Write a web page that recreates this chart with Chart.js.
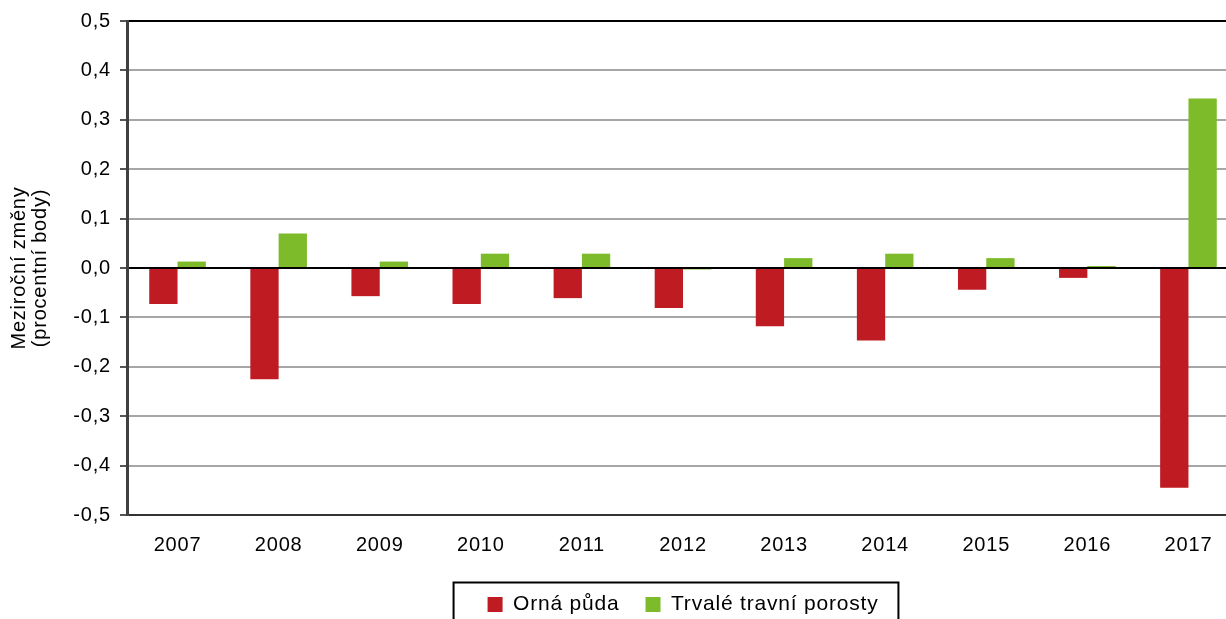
<!DOCTYPE html>
<html>
<head>
<meta charset="utf-8">
<script src="https://cdn.jsdelivr.net/npm/chart.js@4.4.1/dist/chart.umd.min.js"></script>
<style>
  html, body { margin: 0; padding: 0; background: #fff; overflow: hidden; }
  #wrap { position: absolute; left: 0; top: 0; width: 1245px; height: 650px; }
</style>
</head>
<body>
<div id="wrap"><canvas id="graf"></canvas></div>
<script>
// ================================
//            DATA
// ================================
const roky = ["2007", "2008", "2009", "2010", "2011", "2012", "2013", "2014", "2015", "2016", "2017"];
const ornaPuda = [-0.073, -0.225, -0.057, -0.073, -0.061, -0.081, -0.118, -0.147, -0.044, -0.02, -0.445];
const travniPorosty = [0.013, 0.07, 0.013, 0.029, 0.029, -0.003, 0.02, 0.029, 0.02, 0.004, 0.343];
const nazvySerii = ["Orná půda", "Trvalé travní porosty"];
const titulekOsy = ["Meziroční změny", "(procentní body)"];

const cervena = "#be1b22";
const zelena = "#7dbb2b";
const pismo = "'Liberation Sans', Arial, sans-serif";

// ================================
//   PROSTRKANE PISMO (jako Excel)
// ================================
const rozpal = {
  id: "rozpal",
  beforeUpdate(chart) { chart.ctx.letterSpacing = "0.8px"; },
  beforeDraw(chart) { chart.ctx.letterSpacing = "0.8px"; }
};

// ================================
//   RAMECEK KOLEM LEGENDY
// ================================
const legendBox = {
  id: "legendBox",
  afterDraw(chart) {
    const lg = chart.legend;
    if (!lg || !lg.legendHitBoxes || !lg.legendHitBoxes.length) return;
    const hb = lg.legendHitBoxes;
    const first = hb[0];
    const last = hb[hb.length - 1];
    const cy = first.top + first.height / 2;
    const ctx = chart.ctx;
    ctx.save();
    ctx.strokeStyle = "#000";
    ctx.lineWidth = 2;
    ctx.strokeRect(first.left - 34, cy - 22, (last.left + last.width + 20) - (first.left - 34), 44);
    ctx.restore();
  }
};

new Chart(document.getElementById("graf"), {
  type: "bar",
  data: {
    labels: roky,
    datasets: [
      { label: nazvySerii[0], data: ornaPuda, backgroundColor: cervena },
      { label: nazvySerii[1], data: travniPorosty, backgroundColor: zelena }
    ]
  },
  options: {
    responsive: true,
    maintainAspectRatio: false,
    animation: false,
    datasets: { bar: { categoryPercentage: 0.56, barPercentage: 1.0 } },
    layout: { padding: { top: 21, right: 6, left: 0, bottom: 25 } },
    plugins: {
      tooltip: { enabled: false },
      legend: {
        position: "bottom",
        fullSize: false,
        labels: {
          color: "#000",
          font: { family: pismo, size: 21 },
          boxWidth: 15,
          boxHeight: 15,
          padding: 26
        }
      }
    },
    scales: {
      x: {
        grid: { display: false, drawTicks: false },
        border: { display: false },
        ticks: { color: "#000", font: { family: pismo, size: 20 }, padding: 18 },
        afterFit(scale) { scale.height = 53; }
      },
      y: {
        min: -0.5,
        max: 0.5,
        afterFit(scale) { scale.width = 127; },
        border: { display: true, color: "#404040", width: 3 },
        grid: {
          color: (c) => {
            const v = c.tick ? Math.round(c.tick.value * 10) : 1;
            if (v === 0 || v === 5) return "#000";
            if (v === -5) return "#333";
            return "#a6a6a6";
          },
          lineWidth: 2,
          tickColor: "#555",
          tickLength: 7,
          tickWidth: 2
        },
        ticks: {
          stepSize: 0.1,
          color: "#000",
          padding: 9,
          font: { family: pismo, size: 20 },
          callback: (v) => v.toFixed(1).replace(".", ",")
        },
        title: {
          display: true,
          text: titulekOsy,
          color: "#000",
          font: { family: pismo, size: 20, lineHeight: 1.05 },
          padding: { top: 9, bottom: 0 }
        }
      }
    }
  },
  plugins: [rozpal, legendBox]
});
</script>
</body>
</html>
